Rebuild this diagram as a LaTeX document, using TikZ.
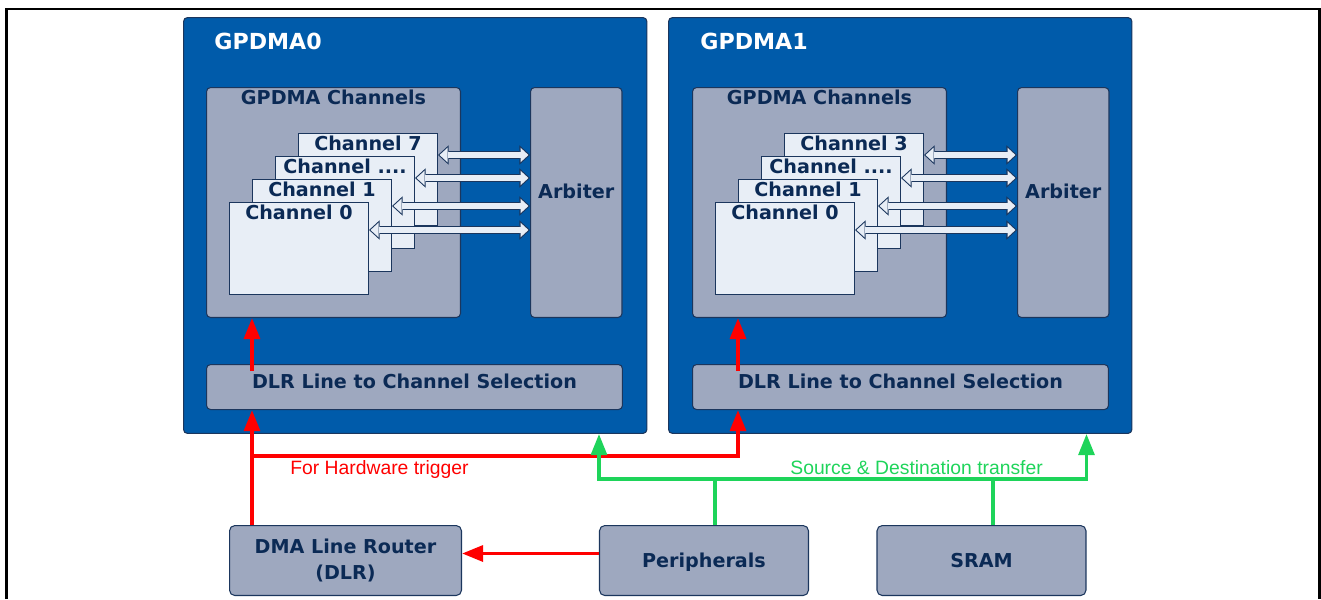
\documentclass[tikz,border=0pt]{standalone}
\usepackage{fontspec}
\setmainfont{DejaVu Sans}
\newfontfamily\arialfont{Liberation Sans}
\usepackage[HTML]{xcolor}
\usepackage{tikz}
\usetikzlibrary{positioning, arrows.meta}

\definecolor{gpblue}{HTML}{005BAA}
\definecolor{gpgray}{HTML}{9EA8BF}
\definecolor{chfill}{HTML}{E8EEF6}
\definecolor{gpnavy}{HTML}{0B2A55}
\definecolor{gpedge}{HTML}{1B365D}
\definecolor{gpred}{HTML}{FF0000}
\definecolor{gpgreen}{HTML}{1ED45A}

\begin{document}
\begin{tikzpicture}[
    x=0.02cm, y=-0.02cm,
    >={Triangle[length=12pt, width=9pt]},
    every node/.style={font=\fontsize{10.9}{15.3}\selectfont\bfseries, text=gpnavy, inner sep=0pt},
    dma/.style={draw=gpedge, fill=gpblue, line width=0.6pt, rounded corners=2.3pt, anchor=north west,
        minimum width=9.27cm, minimum height=8.32cm},
    grp/.style={draw=gpedge, fill=gpgray, line width=0.6pt, rounded corners=2.3pt, anchor=north west},
    chan/.style={draw=gpedge, fill=chfill, line width=0.6pt, anchor=north west,
        minimum width=2.78cm, minimum height=1.84cm},
    title/.style={text=white, font=\fontsize{12.6}{15}\selectfont\bfseries, anchor=base west},
    toplabel/.style={anchor=north, inner sep=1.3pt},
    link/.style={draw=gpedge, line width=4.2pt,
        {Triangle[length=6pt, width=11pt, line width=0pt]}-{Triangle[length=6pt, width=11pt, line width=0pt]},
        postaction={draw=chfill, line width=3pt,
        {Triangle[length=4.5pt, width=8.27pt, line width=0pt]}-{Triangle[length=4.5pt, width=8.27pt, line width=0pt]},
        shorten <=0.89pt, shorten >=0.89pt}},
    trig/.style={draw=gpred, line width=2.2pt},
    bus/.style={draw=gpgreen, line width=2pt},
    note/.style={font=\arialfont\fontsize{11}{13}\selectfont, anchor=base west}
]
    \useasboundingbox (0,0) rectangle (1321,599);
    \draw[line width=1.7pt] (6.5,599) -- (6.5,9) -- (1319.5,9) -- (1319.5,599);

    % GPDMA0
    \node[dma] (G0) at (183,17) {};
    \node[title] (T0) at (214,49) {GPDMA0};
    \node[grp, minimum width=5.08cm, minimum height=4.6cm, label={[toplabel]north:GPDMA Channels}] (CH0) at (206,87) {};
    \node[grp, minimum width=1.83cm, minimum height=4.6cm, label={[yshift=6.4pt]center:Arbiter}] (A0) at (530,87) {};
    \node[grp, minimum width=8.32cm, minimum height=0.9cm, label={[yshift=3.3pt]center:DLR Line to Channel Selection}] (S0) at (206,364) {};
    \node[chan, label={[toplabel]north:Channel 7}] (C07) at (298,133) {};
    \node[chan, label={[toplabel]north:Channel ....}] (C02) at (275,156) {};
    \node[chan, label={[toplabel]north:Channel 1}] (C01) at (252,179) {};
    \node[chan, label={[toplabel]north:Channel 0}] (C00) at (229,202) {};

    % GPDMA1
    \node[dma] (G1) at (668,17) {};
    \node[title] (T1) at (700,49) {GPDMA1};
    \node[grp, minimum width=5.08cm, minimum height=4.6cm, label={[toplabel]north:GPDMA Channels}] (CH1) at (692,87) {};
    \node[grp, minimum width=1.83cm, minimum height=4.6cm, label={[yshift=6.4pt]center:Arbiter}] (A1) at (1017,87) {};
    \node[grp, minimum width=8.32cm, minimum height=0.9cm, label={[yshift=3.3pt]center:DLR Line to Channel Selection}] (S1) at (692,364) {};
    \node[chan, label={[toplabel]north:Channel 3}] (C13) at (784,133) {};
    \node[chan, label={[toplabel]north:Channel ....}] (C12) at (761,156) {};
    \node[chan, label={[toplabel]north:Channel 1}] (C11) at (738,179) {};
    \node[chan, label={[toplabel]north:Channel 0}] (C10) at (715,202) {};

    % Channels to arbiters
    \draw[link] (C07.east |- 0,155) -- (A0.west |- 0,155);
    \draw[link] (C02.east |- 0,178) -- (A0.west |- 0,178);
    \draw[link] (C01.east |- 0,206) -- (A0.west |- 0,206);
    \draw[link] (C00.east |- 0,230) -- (A0.west |- 0,230);
    \draw[link] (C13.east |- 0,155) -- (A1.west |- 0,155);
    \draw[link] (C12.east |- 0,178) -- (A1.west |- 0,178);
    \draw[link] (C11.east |- 0,206) -- (A1.west |- 0,206);
    \draw[link] (C10.east |- 0,230) -- (A1.west |- 0,230);

    % Bottom blocks
    \node[grp, rounded corners=3pt, minimum width=4.64cm, minimum height=1.4cm, align=center] (D) at (229,525) {DMA Line Router\\(DLR)};
    \node[grp, rounded corners=3pt, minimum width=4.18cm, minimum height=1.4cm, text depth=0pt, right=2.74cm of D] (P) {Peripherals};
    \node[grp, rounded corners=3pt, minimum width=4.18cm, minimum height=1.4cm, right=1.35cm of P] (M) {SRAM};

    % Hardware trigger
    \coordinate (r0) at ([xshift=0.46cm]D.north west);
    \draw[trig, ->] ([xshift=0.92cm, yshift=-4pt]S0.north west) -- ([xshift=0.92cm]CH0.south west);
    \draw[trig, ->] ([xshift=0.92cm, yshift=-4pt]S1.north west) -- ([xshift=0.92cm]CH1.south west);
    \draw[trig, ->] (r0) -- (r0 |- S0.south);
    \draw[trig, ->] (r0 |- 0,456) -| ([xshift=0.92cm]S1.south west);
    \draw[trig, ->] ([yshift=4pt]P.west) -- ([yshift=4pt]D.east);
    \node[note, text=gpred] (L1) at (290,474) {For Hardware trigger};

    % Transfers
    \draw[bus, <->] (P.north west |- G0.south) -- (P.north west |- 0,479) -| (M.north east |- G1.south);
    \draw[bus] ([xshift=0.22cm]P.north) -- ++(0,-46);
    \draw[bus] ([xshift=0.23cm]M.north) -- ++(0,-46);
    \node[note, text=gpgreen] (L2) at (790,474) {Source \& Destination transfer};
\end{tikzpicture}
\end{document}
